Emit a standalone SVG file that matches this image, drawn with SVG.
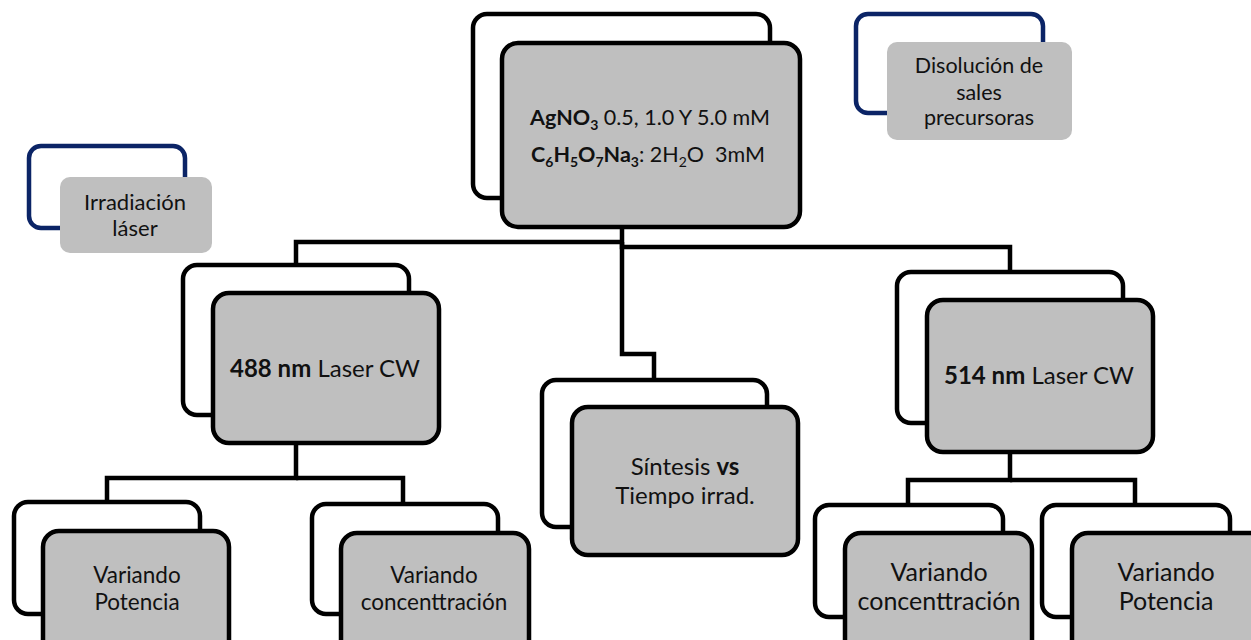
<svg xmlns="http://www.w3.org/2000/svg" width="1251" height="640" viewBox="0 0 1251 640">
<style>
.back{fill:#ffffff;stroke:#000000;stroke-width:4.5}
.front{fill:#bfbfbf;stroke:#000000;stroke-width:4.5}
.bback{fill:#ffffff;stroke:#0b2466;stroke-width:4.5}
.gfront{fill:#bfbfbf;stroke:none}
.conn{fill:none;stroke:#000000;stroke-width:4.5}
text{font-family:Lato,"Open Sans","Liberation Sans",sans-serif;fill:#111111;text-anchor:middle}
.t21{font-size:21.5px}
.t22{font-size:22px}
.t23{font-size:22.5px}
.t24{font-size:24px}
.t25{font-size:25px}
.b{font-weight:bold}
.sub{font-size:14px}
</style>
<rect width="1251" height="640" fill="#ffffff"/>
<g id="connectors">
<polyline class="conn" points="296,265 296,242 622,242"/>
<polyline class="conn" points="622,227 622,247 1010,247 1010,272"/>
<polyline class="conn" points="622,242 622,354 654,354 654,380"/>
<polyline class="conn" points="296,443 296,478 107,478 107,502"/>
<polyline class="conn" points="296,478 403,478 403,504"/>
<polyline class="conn" points="1010,452 1010,480 908,480 908,505"/>
<polyline class="conn" points="1010,480 1135,480 1135,505"/>
</g>
<g id="node-top">
<rect class="back" x="473" y="14" width="297" height="184" rx="14"/>
<rect class="front" x="502" y="43" width="298" height="184" rx="16"/>
<text class="t21" x="650" y="125"><tspan class="b">AgNO<tspan class="sub" dy="5">3</tspan></tspan><tspan dy="-5"> 0.5, 1.0 Y 5.0 mM</tspan></text>
<text class="t21" x="648" y="162"><tspan class="b">C<tspan class="sub" dy="5">6</tspan><tspan dy="-5">H</tspan><tspan class="sub" dy="5">5</tspan><tspan dy="-5">O</tspan><tspan class="sub" dy="5">7</tspan><tspan dy="-5">Na</tspan><tspan class="sub" dy="5">3</tspan></tspan><tspan dy="-5">: 2H</tspan><tspan class="sub" dy="5">2</tspan><tspan dy="-5">O&#160; 3mM</tspan></text>
</g>
<g id="legend-disolucion">
<rect class="bback" x="856" y="14" width="187" height="99" rx="12"/>
<rect class="gfront" x="887" y="42" width="185" height="98" rx="10"/>
<text class="t21" x="979" y="73">Disolución de</text>
<text class="t21" x="979" y="100">sales</text>
<text class="t21" x="979" y="125">precursoras</text>
</g>
<g id="legend-irradiacion">
<rect class="bback" x="29" y="146" width="156" height="82" rx="12"/>
<rect class="gfront" x="60" y="177" width="152" height="76" rx="10"/>
<text class="t22" x="135" y="210">Irradiación</text>
<text class="t22" x="135" y="236">láser</text>
</g>
<g id="node-488">
<rect class="back" x="183" y="265" width="226" height="150" rx="14"/>
<rect class="front" x="213" y="293" width="226" height="150" rx="16"/>
<text class="t24" x="325" y="377"><tspan class="b">488 nm</tspan> Laser CW</text>
</g>
<g id="node-sintesis">
<rect class="back" x="542" y="380" width="225" height="147" rx="14"/>
<rect class="front" x="572" y="407" width="226" height="148" rx="16"/>
<text class="t24" x="685" y="475">Síntesis <tspan class="b">vs</tspan></text>
<text class="t24" x="685" y="504">Tiempo irrad.</text>
</g>
<g id="node-514">
<rect class="back" x="897" y="272" width="226" height="151" rx="14"/>
<rect class="front" x="927" y="300" width="226" height="152" rx="16"/>
<text class="t24" x="1039" y="384"><tspan class="b">514 nm</tspan> Laser CW</text>
</g>
<g id="node-vp-left">
<rect class="back" x="14" y="502" width="186" height="112" rx="14"/>
<rect class="front" x="43" y="531" width="186" height="130" rx="16"/>
<text class="t23" x="137" y="583">Variando</text>
<text class="t23" x="137" y="610">Potencia</text>
</g>
<g id="node-vc-left">
<rect class="back" x="312" y="504" width="186" height="110" rx="14"/>
<rect class="front" x="341" y="533" width="188" height="130" rx="16"/>
<text class="t23" x="434" y="583">Variando</text>
<text class="t23" x="434" y="610">concenttración</text>
</g>
<g id="node-vc-right">
<rect class="back" x="815" y="505" width="188" height="112" rx="14"/>
<rect class="front" x="845" y="533" width="187" height="130" rx="16"/>
<text class="t25" x="939" y="581">Variando</text>
<text class="t25" x="939" y="610">concenttración</text>
</g>
<g id="node-vp-right">
<rect class="back" x="1042" y="505" width="188" height="112" rx="14"/>
<rect class="front" x="1072" y="533" width="200" height="130" rx="16"/>
<text class="t25" x="1166" y="581">Variando</text>
<text class="t25" x="1166" y="610">Potencia</text>
</g>
</svg>
